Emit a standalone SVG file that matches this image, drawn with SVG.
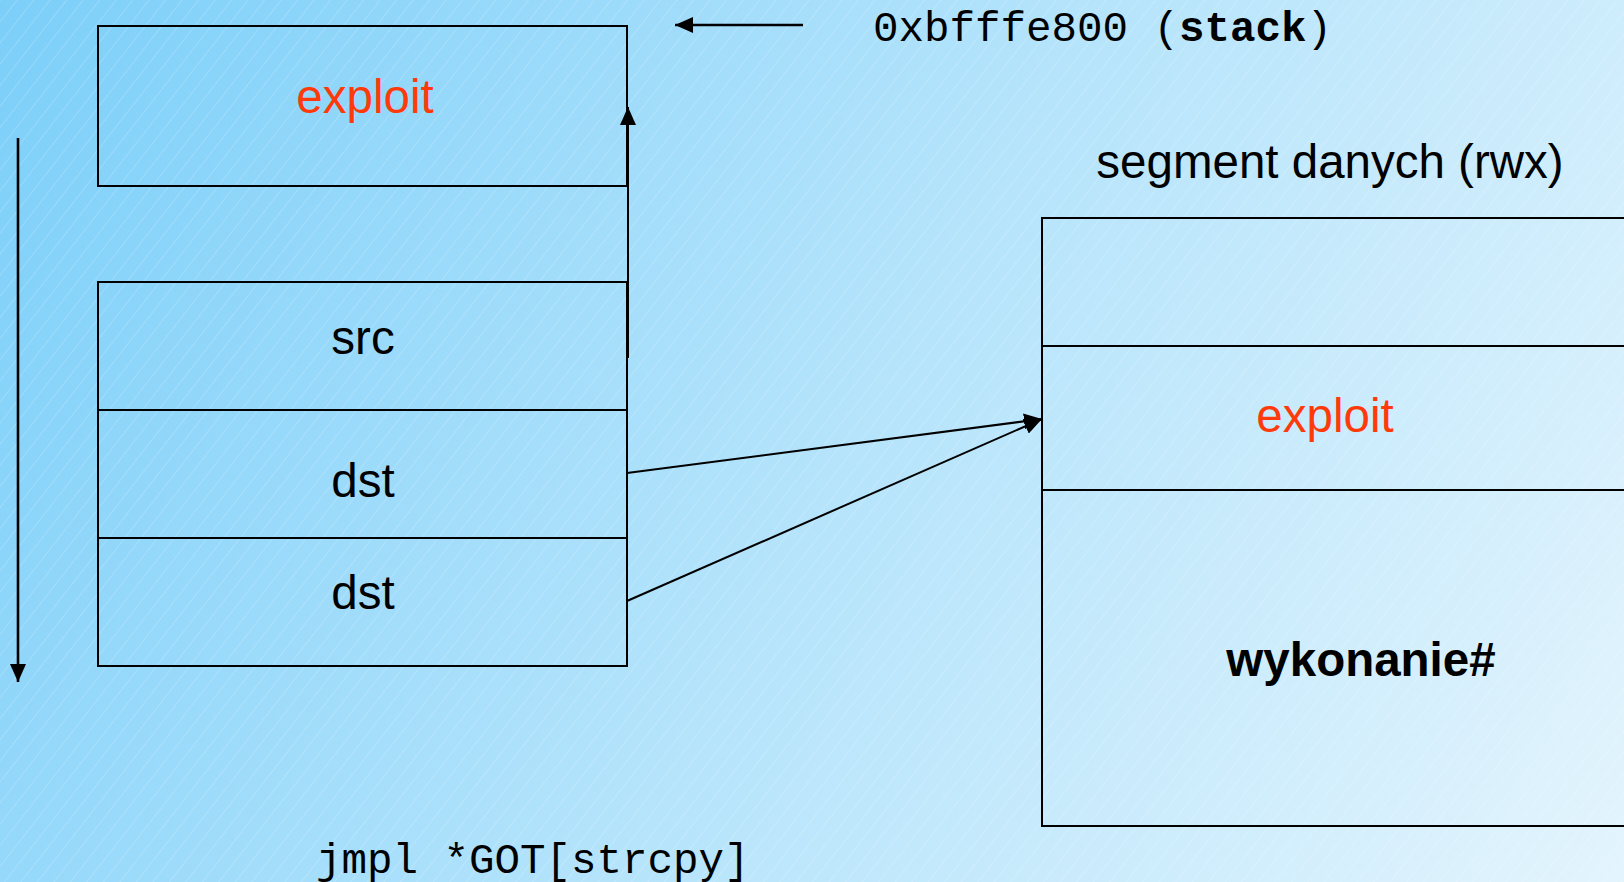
<svg xmlns="http://www.w3.org/2000/svg" width="1624" height="882" viewBox="0 0 1624 882">
<defs>
<linearGradient id="bg" x1="0" y1="0" x2="1624" y2="882" gradientUnits="userSpaceOnUse">
<stop offset="0" stop-color="#7ccff9"/>
<stop offset="0.5" stop-color="#b3e3fb"/>
<stop offset="1" stop-color="#e3f4fd"/>
</linearGradient>
<pattern id="hatch" width="13" height="13" patternUnits="userSpaceOnUse" patternTransform="rotate(38)">
<line x1="0" y1="0" x2="0" y2="13" stroke="#ffffff" stroke-opacity="0.35" stroke-width="1"/>
</pattern>
<marker id="ah" viewBox="0 0 18 16" refX="18" refY="8" markerWidth="18" markerHeight="16" markerUnits="userSpaceOnUse" orient="auto">
<path d="M0,0 L18,8 L0,16 Z" fill="#000"/>
</marker>
<style>
.box{fill:none;stroke:#000;stroke-width:2}
.sans{font-family:"Liberation Sans",Arial,sans-serif;font-size:47.5px;text-anchor:middle}
.red{fill:#ff3a0a}
.mono{font-family:"Liberation Mono","Courier New",monospace;font-size:42.5px;fill:#000}
.conn{stroke:#000;stroke-width:2;fill:none;marker-end:url(#ah)}
.thick{stroke-width:2.6}
</style>
</defs>
<rect width="1624" height="882" fill="url(#bg)"/>
<rect width="1624" height="882" fill="url(#hatch)"/>

<g id="stack-exploit">
<rect class="box" x="98" y="26" width="529" height="160"/>
<text class="sans red" x="365" y="113">exploit</text>
</g>
<g id="src">
<rect class="box" x="98" y="282" width="529" height="128"/>
<text class="sans" x="363" y="354">src</text>
</g>
<g id="dst1">
<rect class="box" x="98" y="410" width="529" height="128"/>
<text class="sans" x="363" y="497">dst</text>
</g>
<g id="dst2">
<rect class="box" x="98" y="538" width="529" height="128"/>
<text class="sans" x="363" y="609">dst</text>
</g>

<g id="segment">
<text class="sans" x="1330" y="178" font-size="48">segment danych (rwx)</text>
<rect class="box" x="1042" y="218" width="600" height="608"/>
<line class="box" x1="1042" y1="346" x2="1624" y2="346"/>
<line class="box" x1="1042" y1="490" x2="1624" y2="490"/>
<text class="sans red" x="1325" y="432">exploit</text>
<text class="sans" x="1361" y="676" font-size="48.5" font-weight="bold">wykonanie#</text>
</g>

<g id="stack-label">
<text class="mono" x="873" y="41" xml:space="preserve">0xbfffe800 (<tspan font-weight="bold">stack</tspan>)</text>
</g>
<g id="jmpl">
<text class="mono" x="316" y="873">jmpl *GOT[strcpy]</text>
</g>

<g id="connectors">
<line class="conn thick" x1="18" y1="138" x2="18" y2="682"/>
<line class="conn" x1="628" y1="358" x2="628" y2="107"/>
<line class="conn thick" x1="803" y1="25" x2="675" y2="25"/>
<line class="conn" x1="627" y1="473" x2="1042" y2="419"/>
<line class="conn" x1="627" y1="601" x2="1042" y2="419"/>
</g>
</svg>
